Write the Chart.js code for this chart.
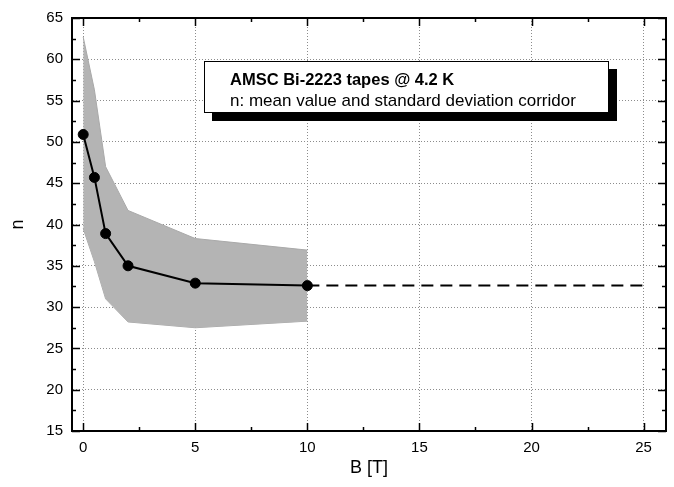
<!DOCTYPE html>
<html>
<head>
<meta charset="utf-8">
<script src="https://cdn.jsdelivr.net/npm/chart.js@4.4.1/dist/chart.umd.min.js"></script>
<style>
  body { margin: 0; background: #fff; }
  #wrap { position: relative; width: 674px; height: 487px; }
  #note {
    position: absolute; left: 204px; top: 61px; width: 405px; height: 52px;
    border: 1px solid #000; background: #fff; box-shadow: 8px 8px 0 #000;
    font-family: "Liberation Sans", Arial, sans-serif; font-size: 17px; color: #000;
    box-sizing: border-box; padding: 7px 0 0 25px; line-height: 21px;
  }
  #note b { font-weight: bold; font-size: 16.5px; }
</style>
</head>
<body>
<div id="wrap">
  <canvas id="chart" width="674" height="487"></canvas>
  <div id="note"><b>AMSC Bi-2223 tapes @ 4.2 K</b><br>n: mean value and standard deviation corridor</div>
</div>
<script>
// magnetic field B [T] and n-value statistics
const fieldB = [0, 0.5, 1, 2, 5, 10];
const nMean  = [50.9, 45.7, 38.9, 35.0, 32.9, 32.6];
const nUpper = [62.7, 56.3, 47.0, 41.7, 38.3, 36.9];
const nLower = [39.5, 35.5, 31.0, 28.2, 27.5, 28.3];

// dashed extrapolation of the mean
const extB = [10, 25];
const extN = [32.6, 32.6];

const FONT = "'Liberation Sans', Arial, sans-serif";

function pts(xs, ys) {
  return xs.map((x, i) => ({ x, y: ys[i] }));
}

// frame around the plot + inward ticks on all four sides (major every 5, minor in between)
const frameTicks = {
  id: "frameTicks",
  afterDraw(chart) {
    const { ctx, chartArea: a, scales } = chart;
    const sx = scales.x, sy = scales.y;
    ctx.save();
    ctx.strokeStyle = "#000";
    ctx.lineWidth = 2;
    ctx.strokeRect(a.left, a.top, a.right - a.left, a.bottom - a.top);

    ctx.lineWidth = 1.5;
    const tick = (x1, y1, x2, y2) => {
      ctx.beginPath(); ctx.moveTo(x1, y1); ctx.lineTo(x2, y2); ctx.stroke();
    };
    sx.ticks.forEach(t => {
      [[t.value, 8], [t.value + 2.5, 4]].forEach(([v, len]) => {
        if (v > sx.max) return;
        const px = Math.round(sx.getPixelForValue(v)) + 0.5;
        tick(px, a.bottom, px, a.bottom - len);
        tick(px, a.top, px, a.top + len);
      });
    });
    sy.ticks.forEach(t => {
      [[t.value, 8], [t.value + 2.5, 4]].forEach(([v, len]) => {
        if (v > sy.max) return;
        const py = Math.round(sy.getPixelForValue(v)) + 0.5;
        tick(a.left, py, a.left + len, py);
        tick(a.right, py, a.right - len, py);
      });
    });
    ctx.restore();
  }
};

new Chart(document.getElementById("chart"), {
  type: "line",
  data: {
    datasets: [
      {
        data: pts(fieldB, nUpper),
        borderColor: "#a9a9a9",
        borderWidth: 1,
        backgroundColor: "#b4b4b4",
        pointRadius: 0,
        fill: "+1",
        tension: 0,
        order: 2
      },
      {
        data: pts(fieldB, nLower),
        borderColor: "#a9a9a9",
        borderWidth: 1,
        pointRadius: 0,
        fill: false,
        tension: 0,
        order: 2
      },
      {
        data: pts(fieldB, nMean),
        borderColor: "#000",
        borderWidth: 2,
        pointRadius: 5,
        pointBorderWidth: 1,
        pointBackgroundColor: "#000",
        pointBorderColor: "#000",
        fill: false,
        tension: 0,
        order: 0
      },
      {
        data: pts(extB, extN),
        borderColor: "#000",
        borderWidth: 2,
        borderDash: [12, 7],
        pointRadius: 0,
        fill: false,
        order: 1
      }
    ]
  },
  options: {
    responsive: false,
    animation: false,
    layout: { padding: { top: 14, right: 8, left: 0, bottom: 0 } },
    plugins: {
      legend: { display: false },
      tooltip: { enabled: false }
    },
    scales: {
      x: {
        type: "linear",
        min: -0.5,
        max: 26,
        afterFit: s => { s.height = 56; },
        ticks: {
          stepSize: 5,
          includeBounds: false,
          padding: 8,
          color: "#000",
          font: { family: FONT, size: 15 }
        },
        grid: { color: "#8c8c8c", lineWidth: 1, drawTicks: false },
        border: { display: true, color: "#000", width: 2, dash: [1, 2] },
        title: {
          display: true,
          text: "B [T]",
          color: "#000",
          font: { family: FONT, size: 18 },
          padding: { top: 0, bottom: 8 }
        }
      },
      y: {
        min: 15,
        max: 65,
        afterFit: s => { s.width = 72; },
        ticks: {
          stepSize: 5,
          padding: 9,
          color: "#000",
          font: { family: FONT, size: 15 }
        },
        grid: { color: "#8c8c8c", lineWidth: 1, drawTicks: false },
        border: { display: true, color: "#000", width: 2, dash: [1, 2] },
        title: {
          display: true,
          text: "n",
          color: "#000",
          font: { family: FONT, size: 18 },
          padding: { top: 7, bottom: 0 }
        }
      }
    }
  },
  plugins: [frameTicks]
});
</script>
</body>
</html>
